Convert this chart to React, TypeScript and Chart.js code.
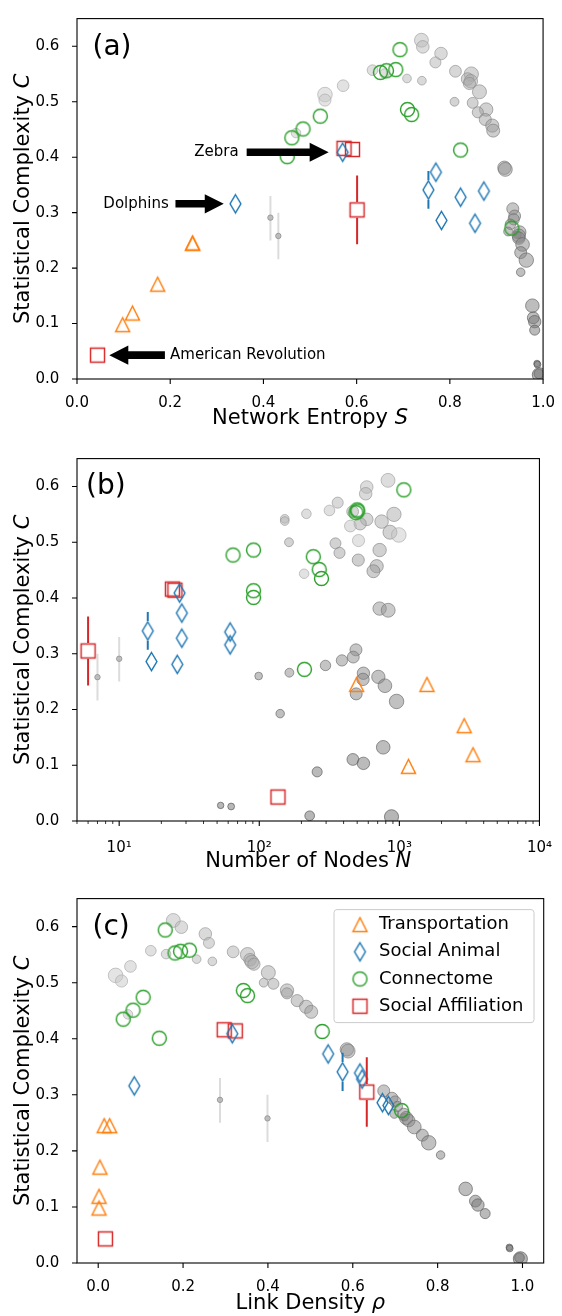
import React, { useEffect, useRef } from "react";
import { Chart, registerables } from "chart.js";

Chart.register(...registerables);

const FONT = '"DejaVu Sans", "Liberation Sans", sans-serif';
const ORANGE = "#ff7f0e";
const BLUE = "#1f77b4";
const GREEN = "#2ca02c";
const RED = "#d62728";

// ---------------- data ----------------
// Transportation
const transportC = [0.098, 0.119, 0.171, 0.245, 0.245];
const transportS = [0.098, 0.119, 0.173, 0.248, 0.248];
const transportN = [1161, 3357, 2901, 495, 1574];
const transportRho = [0.002, 0.002, 0.004, 0.027, 0.014];

// Social Animal (0 = Dolphins, 1 = Zebra)
const animalC = [0.316, 0.409, 0.341, 0.373, 0.328, 0.339, 0.286, 0.281];
const animalS = [0.34, 0.57, 0.754, 0.77, 0.823, 0.873, 0.782, 0.854];
const animalN = [62, 27, 16, 28, 28, 62, 17, 26];
const animalRho = [0.085, 0.316, 0.576, 0.542, 0.622, 0.617, 0.67, 0.684];
const animalLo = [null, null, 0.307, null, null, null, null, null];
const animalHi = [null, null, 0.375, null, null, null, null, null];

// Connectome
const connectomeC = [0.401, 0.435, 0.451, 0.474, 0.553, 0.556, 0.558, 0.594, 0.486, 0.477, 0.413, 0.272];
const connectomeS = [0.451, 0.461, 0.485, 0.522, 0.651, 0.664, 0.684, 0.693, 0.709, 0.718, 0.823, 0.933];
const connectomeN = [91, 278, 268, 243, 490, 505, 500, 1076, 91, 65, 91, 210];
const connectomeRho = [0.144, 0.059, 0.082, 0.106, 0.181, 0.194, 0.215, 0.158, 0.342, 0.352, 0.528, 0.715];

// Social Affiliation (0 = American Revolution)
const affiliationC = [0.043, 0.416, 0.414, 0.305];
const affiliationS = [0.044, 0.573, 0.591, 0.601];
const affiliationN = [136, 24, 25, 6];
const affiliationRho = [0.017, 0.297, 0.323, 0.633];
const affiliationLo = [null, null, null, 0.243];
const affiliationHi = [null, null, null, 0.367];

// Other networks (grey)
const otherC = [0.611, 0.599, 0.587, 0.571, 0.557, 0.555, 0.551, 0.55, 0.542, 0.541, 0.538, 0.537, 0.533, 0.529, 0.518, 0.513, 0.503, 0.5, 0.498, 0.486, 0.481, 0.468, 0.457, 0.448, 0.4435, 0.381, 0.378, 0.307, 0.294, 0.288, 0.279, 0.266, 0.265, 0.26, 0.2585, 0.254, 0.2426, 0.228, 0.2144, 0.1926, 0.1322, 0.1104, 0.1034, 0.0881, 0.028, 0.026, 0.0094, 0.0076];
const otherS = [0.739, 0.742, 0.781, 0.769, 0.634, 0.812, 0.66, 0.846, 0.708, 0.838, 0.74, 0.845, 0.842, 0.571, 0.8635, 0.532, 0.532, 0.81, 0.849, 0.878, 0.86, 0.876, 0.891, 0.893, 0.47, 0.917, 0.919, 0.935, 0.939, 0.937, 0.93, 0.925, 0.95, 0.945, 0.948, 0.948, 0.956, 0.952, 0.964, 0.952, 0.977, 0.979, 0.982, 0.982, 0.987, 0.988, 0.991, 0.992];
const otherN = [830, 585, 575, 363, 317, 464, 217, 915, 152, 585, 152, 747, 525, 447, 857, 991, 511, 163, 350, 723, 374, 509, 689, 653, 209, 723, 832, 490, 469, 389, 297, 164, 554, 99, 708, 550, 789, 492, 955, 141, 767, 466, 554, 259, 53, 63, 229, 879];
const otherRho = [0.177, 0.196, 0.2525, 0.261, 0.124, 0.318, 0.16, 0.352, 0.232, 0.358, 0.269, 0.362, 0.367, 0.076, 0.401, 0.041, 0.055, 0.39, 0.413, 0.445, 0.445, 0.469, 0.49, 0.502, 0.07, 0.586, 0.589, 0.673, 0.6925, 0.7, 0.705, 0.698, 0.72, 0.722, 0.726, 0.732, 0.745, 0.764, 0.779, 0.807, 0.866, 0.889, 0.895, 0.912, 0.969, 0.97, 0.993, 0.995];

// Small ensembles with error bars (grey)
const ensembleC = [0.291, 0.258];
const ensembleS = [0.415, 0.432];
const ensembleN = [10, 7];
const ensembleRho = [0.287, 0.399];
const ensembleLo = [0.25, 0.216];
const ensembleHi = [0.33, 0.3];

// Ticks
const cTicks = [0, 0.1, 0.2, 0.3, 0.4, 0.5, 0.6];
const unitTicks = [0, 0.2, 0.4, 0.6, 0.8, 1.0];
const nTicks = [10, 100, 1000, 10000];
const nTickLabels = ["10\u00b9", "10\u00b2", "10\u00b3", "10\u2074"];

const legendLabels = ["Transportation", "Social Animal", "Connectome", "Social Affiliation"];

// ---------------- helpers ----------------
type Part = { text: string; italic?: boolean };

function makeMarker(kind: string, color: string): HTMLCanvasElement {
  const c = document.createElement("canvas");
  const W = 21;
  const H = kind === "diamond" ? 23 : 19;
  c.width = W;
  c.height = H;
  const g = c.getContext("2d")!;
  g.strokeStyle = color;
  g.lineWidth = 1.45;
  g.lineJoin = "miter";
  const cx = W / 2;
  const cy = H / 2;
  g.beginPath();
  if (kind === "circle") g.arc(cx, cy, 7, 0, Math.PI * 2);
  else if (kind === "square") g.rect(cx - 7, cy - 7, 14, 14);
  else if (kind === "triangle") {
    g.moveTo(cx, cy - 7);
    g.lineTo(cx + 7, cy + 7);
    g.lineTo(cx - 7, cy + 7);
    g.closePath();
  } else {
    g.moveTo(cx, cy - 9);
    g.lineTo(cx + 5.4, cy);
    g.lineTo(cx, cy + 9);
    g.lineTo(cx - 5.4, cy);
    g.closePath();
  }
  g.stroke();
  return c;
}

function greyLevel(rho: number) {
  return Math.round(205 - 95 * (rho ?? 0.5));
}
function greyFill(ctx: any) {
  const g = greyLevel(ctx.raw ? ctx.raw.rho : 0.5);
  return `rgba(${g},${g},${g},0.5)`;
}
function greyEdge(ctx: any) {
  const g = greyLevel(ctx.raw ? ctx.raw.rho : 0.5) - 30;
  return `rgba(${g},${g},${g},0.65)`;
}
function greyRadius(ctx: any) {
  const n = ctx.raw ? ctx.raw.n : 100;
  return Math.max(2.6, 1.08 * Math.pow(n, 0.277));
}

function drawMixed(ctx: CanvasRenderingContext2D, x: number, y: number, parts: Part[], size: number, rotate: boolean) {
  ctx.save();
  ctx.translate(x, y);
  if (rotate) ctx.rotate(-Math.PI / 2);
  ctx.textBaseline = "middle";
  ctx.textAlign = "left";
  ctx.fillStyle = "#000";
  const widths = parts.map((p) => {
    ctx.font = `${p.italic ? "italic " : ""}${size}px ${FONT}`;
    return ctx.measureText(p.text).width;
  });
  const total = widths.reduce((a, b) => a + b, 0);
  let cx = -total / 2;
  parts.forEach((p, i) => {
    ctx.font = `${p.italic ? "italic " : ""}${size}px ${FONT}`;
    ctx.fillText(p.text, cx, 0);
    cx += widths[i];
  });
  ctx.restore();
}

interface PanelCfg {
  top: number;
  height: number;
  padTop: number;
  axisH: number;
  xType: "linear" | "logarithmic";
  xMin: number;
  xMax: number;
  xTicks: number[];
  xLabel: (v: number, i: number) => string;
  xPad: number;
  minorX: number[];
  xTitle: Part[];
  titleDY: number;
  letter: string;
  letterDX: number;
  letterDY: number;
  xs: { transport: number[]; animal: number[]; connectome: number[]; affiliation: number[]; other: number[]; ensemble: number[] };
  annotations?: boolean;
  legend?: boolean;
}

const logMinor: number[] = [];
[1, 10, 100, 1000].forEach((d) => {
  for (let m = 2; m <= 9; m++) {
    const v = m * d;
    if (v >= 5 && v < 10000) logMinor.push(v);
  }
});

const panels: PanelCfg[] = [
  {
    top: 0, height: 440, padTop: 10, axisH: 61,
    xType: "linear", xMin: 0, xMax: 1, xTicks: unitTicks, xLabel: (v) => v.toFixed(1), xPad: 7, minorX: [],
    xTitle: [{ text: "Network Entropy " }, { text: "S", italic: true }], titleDY: 39.5,
    letter: "(a)", letterDX: 15.5, letterDY: 29,
    xs: { transport: transportS, animal: animalS, connectome: connectomeS, affiliation: affiliationS, other: otherS, ensemble: ensembleS },
    annotations: true,
  },
  {
    top: 440, height: 440, padTop: 12.3, axisH: 59,
    xType: "logarithmic", xMin: 5, xMax: 10000, xTicks: nTicks, xLabel: (_v, i) => nTickLabels[i], xPad: 10, minorX: logMinor,
    xTitle: [{ text: "Number of Nodes " }, { text: "N", italic: true }], titleDY: 41,
    letter: "(b)", letterDX: 9, letterDY: 28,
    xs: { transport: transportN, animal: animalN, connectome: connectomeN, affiliation: affiliationN, other: otherN, ensemble: ensembleN },
  },
  {
    top: 880, height: 436, padTop: 13.3, axisH: 53,
    xType: "linear", xMin: -0.05, xMax: 1.05, xTicks: unitTicks, xLabel: (v) => v.toFixed(1), xPad: 7, minorX: [],
    xTitle: [{ text: "Link Density " }, { text: "\u03c1", italic: true }], titleDY: 41,
    letter: "(c)", letterDX: 15.5, letterDY: 29,
    xs: { transport: transportRho, animal: animalRho, connectome: connectomeRho, affiliation: affiliationRho, other: otherRho, ensemble: ensembleRho },
    legend: true,
  },
];

const annotationSpecs = [
  { text: "Zebra", series: "animal", index: 1, tipDX: -14, tailDX: -96, textDX: -104, align: "right" },
  { text: "Dolphins", series: "animal", index: 0, tipDX: -11.7, tailDX: -60, textDX: -66.7, align: "right" },
  { text: "American Revolution", series: "affiliation", index: 0, tipDX: 11.8, tailDX: 67.4, textDX: 72.5, align: "left" },
];

function drawArrow(ctx: CanvasRenderingContext2D, x0: number, y0: number, x1: number, y1: number) {
  const dx = x1 - x0, dy = y1 - y0;
  const len = Math.hypot(dx, dy);
  const ux = dx / len, uy = dy / len;
  const nx = -uy, ny = ux;
  const hw = 3.8, HW = 9.6, HL = 19;
  const bx = x1 - ux * HL, by = y1 - uy * HL;
  ctx.beginPath();
  ctx.moveTo(x0 + nx * hw, y0 + ny * hw);
  ctx.lineTo(bx + nx * hw, by + ny * hw);
  ctx.lineTo(bx + nx * HW, by + ny * HW);
  ctx.lineTo(x1, y1);
  ctx.lineTo(bx - nx * HW, by - ny * HW);
  ctx.lineTo(bx - nx * hw, by - ny * hw);
  ctx.lineTo(x0 - nx * hw, y0 - ny * hw);
  ctx.closePath();
  ctx.fillStyle = "#000";
  ctx.fill();
}

function makeDecor(cfg: PanelCfg, markers: HTMLCanvasElement[]) {
  const seriesX: any = cfg.xs;
  const seriesY: any = { transport: transportC, animal: animalC, connectome: connectomeC, affiliation: affiliationC };
  return {
    id: "decor",
    beforeDatasetsDraw(chart: any) {
      const ctx: CanvasRenderingContext2D = chart.ctx;
      const xs = chart.scales.x, ys = chart.scales.y, a = chart.chartArea;
      ctx.save();
      ctx.beginPath();
      ctx.rect(a.left, a.top, a.right - a.left, a.bottom - a.top);
      ctx.clip();
      ctx.strokeStyle = "#dcdcdc";
      ctx.lineWidth = 2;
      cfg.xs.ensemble.forEach((xv, i) => {
        const px = xs.getPixelForValue(xv);
        ctx.beginPath();
        ctx.moveTo(px, ys.getPixelForValue(ensembleLo[i]));
        ctx.lineTo(px, ys.getPixelForValue(ensembleHi[i]));
        ctx.stroke();
      });
      ctx.restore();
    },
    afterDatasetsDraw(chart: any) {
      const ctx: CanvasRenderingContext2D = chart.ctx;
      const xs = chart.scales.x, ys = chart.scales.y;
      const bars = [
        { xv: cfg.xs.animal, yv: animalC, lo: animalLo, hi: animalHi, color: BLUE, gap: 9.8 },
        { xv: cfg.xs.affiliation, yv: affiliationC, lo: affiliationLo, hi: affiliationHi, color: RED, gap: 7.9 },
      ];
      ctx.save();
      ctx.lineWidth = 2;
      bars.forEach((b) => {
        ctx.strokeStyle = b.color;
        b.xv.forEach((xv, i) => {
          const lo = b.lo[i], hi = b.hi[i];
          if (lo == null || hi == null) return;
          const px = xs.getPixelForValue(xv);
          const py = ys.getPixelForValue(b.yv[i]);
          ctx.beginPath();
          ctx.moveTo(px, ys.getPixelForValue(hi));
          ctx.lineTo(px, py - b.gap);
          ctx.moveTo(px, py + b.gap);
          ctx.lineTo(px, ys.getPixelForValue(lo));
          ctx.stroke();
        });
      });
      ctx.restore();
    },
    afterDraw(chart: any) {
      const ctx: CanvasRenderingContext2D = chart.ctx;
      const xs = chart.scales.x, ys = chart.scales.y, a = chart.chartArea;
      ctx.save();
      // frame
      ctx.strokeStyle = "#000";
      ctx.lineWidth = 1.1;
      ctx.strokeRect(a.left, a.top, a.right - a.left, a.bottom - a.top);
      // ticks
      ctx.lineWidth = 1.1;
      ctx.beginPath();
      xs.ticks.forEach((t: any) => {
        const px = xs.getPixelForValue(t.value);
        ctx.moveTo(px, a.bottom);
        ctx.lineTo(px, a.bottom + 5);
      });
      ys.ticks.forEach((t: any) => {
        const py = ys.getPixelForValue(t.value);
        ctx.moveTo(a.left, py);
        ctx.lineTo(a.left - 5, py);
      });
      ctx.stroke();
      ctx.lineWidth = 0.8;
      ctx.beginPath();
      cfg.minorX.forEach((v) => {
        const px = xs.getPixelForValue(v);
        ctx.moveTo(px, a.bottom);
        ctx.lineTo(px, a.bottom + 3);
      });
      ctx.stroke();
      // axis titles
      const midX = (a.left + a.right) / 2;
      const midY = (a.top + a.bottom) / 2;
      drawMixed(ctx, midX, a.bottom + cfg.titleDY, cfg.xTitle, 21, false);
      drawMixed(ctx, 23.5, midY, [{ text: "Statistical Complexity " }, { text: "C", italic: true }], 21, true);
      // panel letter
      ctx.fillStyle = "#000";
      ctx.font = `28px ${FONT}`;
      ctx.textAlign = "left";
      ctx.textBaseline = "middle";
      ctx.fillText(cfg.letter, a.left + cfg.letterDX, a.top + cfg.letterDY);
      // annotations
      if (cfg.annotations) {
        annotationSpecs.forEach((s) => {
          const px = xs.getPixelForValue(seriesX[s.series][s.index]);
          const py = ys.getPixelForValue(seriesY[s.series][s.index]);
          drawArrow(ctx, px + s.tailDX, py, px + s.tipDX, py);
          ctx.font = `15px ${FONT}`;
          ctx.textAlign = s.align as CanvasTextAlign;
          ctx.textBaseline = "middle";
          ctx.fillStyle = "#000";
          ctx.fillText(s.text, px + s.textDX, py);
        });
      }
      // legend
      if (cfg.legend) {
        const w = 200, h = 113;
        const left = a.right - 9.7 - w;
        const top = a.top + 11;
        ctx.beginPath();
        const r = 3;
        ctx.moveTo(left + r, top);
        ctx.lineTo(left + w - r, top);
        ctx.arcTo(left + w, top, left + w, top + r, r);
        ctx.lineTo(left + w, top + h - r);
        ctx.arcTo(left + w, top + h, left + w - r, top + h, r);
        ctx.lineTo(left + r, top + h);
        ctx.arcTo(left, top + h, left, top + h - r, r);
        ctx.lineTo(left, top + r);
        ctx.arcTo(left, top, left + r, top, r);
        ctx.closePath();
        ctx.fillStyle = "rgba(255,255,255,0.8)";
        ctx.fill();
        ctx.strokeStyle = "#cccccc";
        ctx.lineWidth = 1;
        ctx.stroke();
        legendLabels.forEach((lab, i) => {
          const ry = top + 15 + i * 27.2;
          const m = markers[i];
          ctx.drawImage(m, left + 26 - m.width / 2, ry - m.height / 2);
          ctx.font = `18px ${FONT}`;
          ctx.textAlign = "left";
          ctx.textBaseline = "middle";
          ctx.fillStyle = "#000";
          ctx.fillText(lab, left + 45, ry);
        });
      }
      ctx.restore();
    },
  };
}

function buildChart(canvas: HTMLCanvasElement, cfg: PanelCfg, markers: HTMLCanvasElement[]) {
  const pts = (xv: number[], yv: number[]) => xv.map((x, i) => ({ x, y: yv[i] }));
  const colored = (label: string, xv: number[], yv: number[], marker: HTMLCanvasElement) => ({
    label,
    data: pts(xv, yv),
    pointStyle: marker,
    pointRadius: 8,
    pointHoverRadius: 8,
    showLine: false,
    clip: 0,
  });
  const datasets: any[] = [
    colored(legendLabels[0], cfg.xs.transport, transportC, markers[0]),
    colored(legendLabels[1], cfg.xs.animal, animalC, markers[1]),
    colored(legendLabels[2], cfg.xs.connectome, connectomeC, markers[2]),
    colored(legendLabels[3], cfg.xs.affiliation, affiliationC, markers[3]),
    {
      label: "Ensemble",
      data: cfg.xs.ensemble.map((x, i) => ({ x, y: ensembleC[i] })),
      pointStyle: "circle",
      pointRadius: 2.7,
      pointHoverRadius: 2.7,
      pointBackgroundColor: "rgba(175,175,175,0.75)",
      pointBorderColor: "rgba(140,140,140,0.8)",
      pointBorderWidth: 1,
      showLine: false,
      clip: 0,
    },
    {
      label: "Other",
      data: cfg.xs.other.map((x, i) => ({ x, y: otherC[i], n: otherN[i], rho: otherRho[i] })),
      pointStyle: "circle",
      pointRadius: greyRadius,
      pointHoverRadius: greyRadius,
      pointBackgroundColor: greyFill,
      pointBorderColor: greyEdge,
      pointBorderWidth: 1,
      showLine: false,
      clip: 0,
    },
  ];
  return new Chart(canvas, {
    type: "scatter",
    data: { datasets },
    plugins: [makeDecor(cfg, markers)],
    options: {
      animation: false,
      responsive: false,
      maintainAspectRatio: false,
      devicePixelRatio: 1,
      events: [],
      layout: { padding: { top: cfg.padTop, right: 562 - 543.7, left: 0, bottom: 0 } },
      plugins: { legend: { display: false }, tooltip: { enabled: false }, title: { display: false } },
      scales: {
        x: {
          type: cfg.xType,
          min: cfg.xMin,
          max: cfg.xMax,
          grid: { display: false },
          border: { display: false },
          afterBuildTicks: (s: any) => {
            s.ticks = cfg.xTicks.map((v) => ({ value: v }));
          },
          afterFit: (s: any) => {
            s.height = cfg.axisH;
          },
          ticks: {
            autoSkip: false,
            maxRotation: 0,
            minRotation: 0,
            padding: cfg.xPad,
            color: "#000",
            font: { family: FONT, size: 15 },
            callback: (v: any, i: number) => cfg.xLabel(Number(v), i),
          },
        } as any,
        y: {
          type: "linear",
          min: 0,
          max: 0.65,
          grid: { display: false },
          border: { display: false },
          afterBuildTicks: (s: any) => {
            s.ticks = cTicks.map((v) => ({ value: v }));
          },
          afterFit: (s: any) => {
            s.width = 77;
          },
          ticks: {
            autoSkip: false,
            padding: 9.6,
            color: "#000",
            font: { family: FONT, size: 15 },
            callback: (v: any) => Number(v).toFixed(1),
          },
        } as any,
      },
    } as any,
  });
}

export default function App() {
  const refs = [useRef<HTMLCanvasElement>(null), useRef<HTMLCanvasElement>(null), useRef<HTMLCanvasElement>(null)];
  useEffect(() => {
    const markers = [
      makeMarker("triangle", ORANGE),
      makeMarker("diamond", BLUE),
      makeMarker("circle", GREEN),
      makeMarker("square", RED),
    ];
    const charts = panels.map((p, i) => buildChart(refs[i].current!, p, markers));
    return () => charts.forEach((c) => c.destroy());
  }, []);
  return (
    <div style={{ position: "absolute", left: 0, top: 0, width: 562, height: 1316, background: "#fff", overflow: "hidden" }}>
      {panels.map((p, i) => (
        <canvas
          key={i}
          ref={refs[i]}
          width={562}
          height={p.height}
          style={{ position: "absolute", left: 0, top: p.top, width: 562, height: p.height }}
        />
      ))}
    </div>
  );
}
